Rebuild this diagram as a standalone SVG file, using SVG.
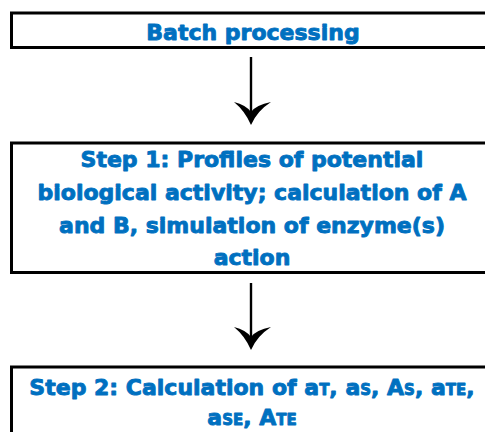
<svg xmlns="http://www.w3.org/2000/svg" width="485" height="432" viewBox="0 0 485 432">
<style>
.box{fill:#fff;stroke:#000;stroke-width:3}
.t{font-family:"DejaVu Sans",sans-serif;font-weight:bold;font-size:22px;fill:#0070C0;stroke:#0070C0;stroke-width:0.9;stroke-linejoin:round;text-anchor:middle}
.s{font-size:15px}
.ln{stroke:#000;stroke-width:2.4;fill:none}
.hd{fill:#000}
</style>
<defs>
<path id="head" d="M0,0 Q-6,-14 -17,-23 Q-5,-20 0,-13 Q5,-20 20,-23 Q6,-14 0,0 Z"/>
</defs>
<rect width="485" height="432" fill="#fff"/>
<g id="node-batch">
<rect class="box" x="11.5" y="13" width="480" height="34.5"/>
<text class="t" x="253" y="40">Batch processing</text>
</g>
<g id="node-step1">
<rect class="box" x="11.5" y="143" width="480" height="129.5"/>
<text class="t" x="252" y="167">Step 1: Profiles of potential</text>
<text class="t" x="252" y="200">biological activity; calculation of A</text>
<text class="t" x="252" y="233">and B, simulation of enzyme(s)</text>
<text class="t" x="252" y="265">action</text>
</g>
<g id="node-step2">
<rect class="box" x="11.5" y="367" width="480" height="80"/>
<text class="t" x="252" y="395">Step 2: Calculation of a<tspan class="s">T</tspan>, a<tspan class="s">S</tspan>, A<tspan class="s">S</tspan>, a<tspan class="s">TE</tspan>,</text>
<text class="t" x="252" y="425">a<tspan class="s">SE</tspan>, A<tspan class="s">TE</tspan></text>
</g>
<g id="connectors">
<line class="ln" x1="251" y1="57" x2="251" y2="115"/>
<use href="#head" class="hd" x="251" y="125"/>
<line class="ln" x1="251" y1="283" x2="251" y2="340"/>
<use href="#head" class="hd" x="251" y="350"/>
</g>
</svg>
